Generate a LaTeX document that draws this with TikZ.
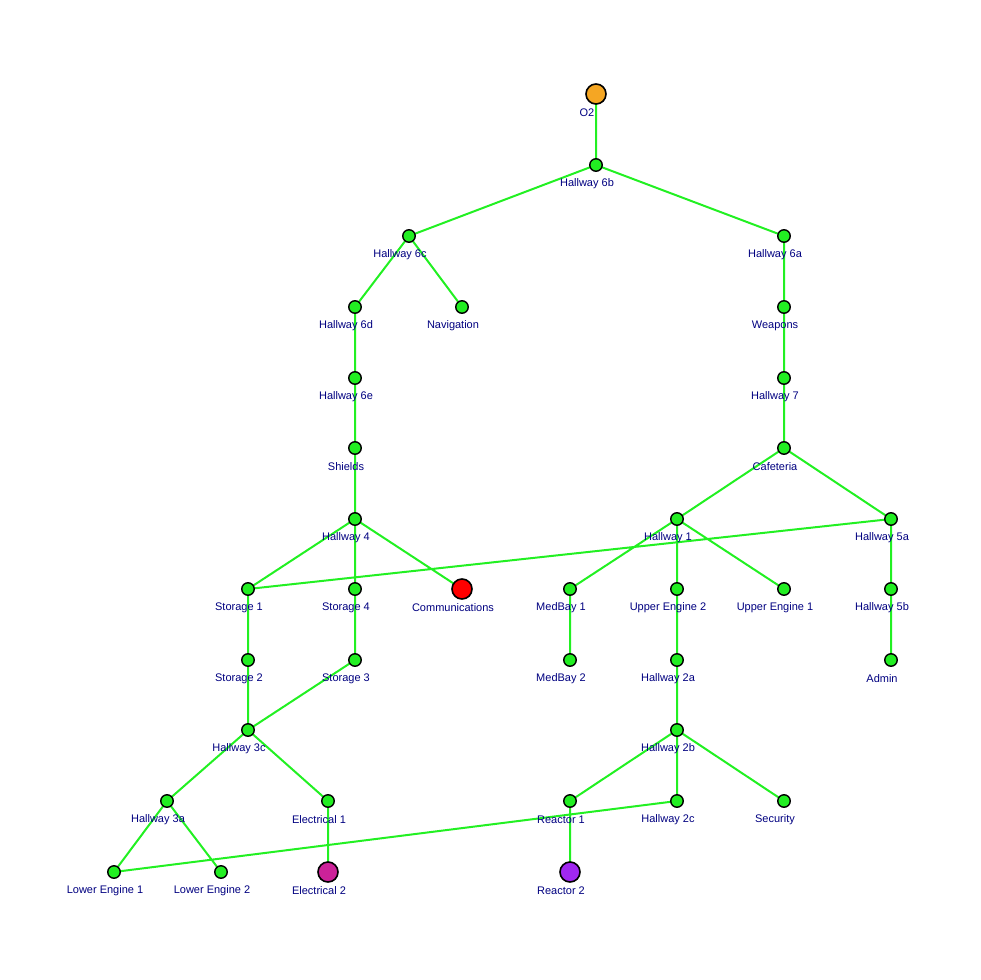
\documentclass[tikz,border=0pt]{standalone}
\usepackage{fontspec}
\setmainfont{Liberation Sans}
\usetikzlibrary{backgrounds}
\definecolor{edgegreen}{RGB}{34,240,34}
\definecolor{nodegreen}{RGB}{34,238,34}
\definecolor{lblblue}{RGB}{0,0,128}
\definecolor{oorange}{RGB}{245,166,35}
\definecolor{cred}{RGB}{255,0,0}
\definecolor{emag}{RGB}{204,34,153}
\definecolor{rpurple}{RGB}{160,40,240}
\tikzset{
  lbl/.style={text=lblblue,font=\fontsize{11}{13}\selectfont,inner sep=0pt,xshift=-9pt,yshift=-18.5pt},
  sm/.style={circle,draw=black,line width=1.4pt,fill=nodegreen,minimum size=12.5pt,inner sep=0pt,label={[lbl]center:#1}},
  bg/.style 2 args={circle,draw=black,line width=1.6pt,fill=#2,minimum size=20pt,inner sep=0pt,label={[lbl]center:#1}},
  edge/.style={draw=edgegreen,line width=2pt}
}
\begin{document}
\begin{tikzpicture}[x=1pt,y=-1pt]
\useasboundingbox (0,0) rectangle (980,980);
\node[bg={O2}{oorange}] (o2) at (596,94) {};
\node[sm=Hallway 6b] (h6b) at (596,165) {};
\node[sm=Hallway 6c] (h6c) at (409,236) {};
\node[sm=Hallway 6a] (h6a) at (784,236) {};
\node[sm=Hallway 6d] (h6d) at (355,307) {};
\node[sm=Navigation] (nav) at (462,307) {};
\node[sm=Weapons] (wea) at (784,307) {};
\node[sm=Hallway 6e] (h6e) at (355,378) {};
\node[sm=Hallway 7] (h7) at (784,378) {};
\node[sm=Shields] (shi) at (355,448) {};
\node[sm=Cafeteria] (caf) at (784,448) {};
\node[sm=Hallway 4] (h4) at (355,519) {};
\node[sm=Hallway 1] (h1) at (677,519) {};
\node[sm=Hallway 5a] (h5a) at (891,519) {};
\node[sm=Storage 1] (st1) at (248,589) {};
\node[sm=Storage 4] (st4) at (355,589) {};
\node[bg={Communications}{cred}] (com) at (462,589) {};
\node[sm=MedBay 1] (mb1) at (570,589) {};
\node[sm=Upper Engine 2] (ue2) at (677,589) {};
\node[sm=Upper Engine 1] (ue1) at (784,589) {};
\node[sm=Hallway 5b] (h5b) at (891,589) {};
\node[sm=Storage 2] (st2) at (248,660) {};
\node[sm=Storage 3] (st3) at (355,660) {};
\node[sm=MedBay 2] (mb2) at (570,660) {};
\node[sm=Hallway 2a] (h2a) at (677,660) {};
\node[sm=Admin] (adm) at (891,660) {};
\node[sm=Hallway 3c] (h3c) at (248,730) {};
\node[sm=Hallway 2b] (h2b) at (677,730) {};
\node[sm=Hallway 3a] (h3a) at (167,801) {};
\node[sm=Electrical 1] (el1) at (328,801) {};
\node[sm=Reactor 1] (re1) at (570,801) {};
\node[sm=Hallway 2c] (h2c) at (677,801) {};
\node[sm=Security] (sec) at (784,801) {};
\node[sm=Lower Engine 1] (le1) at (114,872) {};
\node[sm=Lower Engine 2] (le2) at (221,872) {};
\node[bg={Electrical 2}{emag}] (el2) at (328,872) {};
\node[bg={Reactor 2}{rpurple}] (re2) at (570,872) {};
\begin{scope}[on background layer]
\path[edge] (o2.center) -- (h6b.center)
  (h6b.center) -- (h6c.center) (h6b.center) -- (h6a.center)
  (h6c.center) -- (h6d.center) (h6c.center) -- (nav.center)
  (h6a.center) -- (wea.center)
  (h6d.center) -- (h6e.center) (h6e.center) -- (shi.center) (shi.center) -- (h4.center)
  (wea.center) -- (h7.center) (h7.center) -- (caf.center)
  (caf.center) -- (h1.center) (caf.center) -- (h5a.center)
  (h4.center) -- (st1.center) (h4.center) -- (st4.center) (h4.center) -- (com.center)
  (h5a.center) -- (st1.center)
  (h1.center) -- (mb1.center) (h1.center) -- (ue2.center) (h1.center) -- (ue1.center)
  (h5a.center) -- (h5b.center) (h5b.center) -- (adm.center)
  (st1.center) -- (st2.center) (st2.center) -- (h3c.center)
  (st4.center) -- (st3.center) (st3.center) -- (h3c.center)
  (mb1.center) -- (mb2.center)
  (ue2.center) -- (h2a.center) (h2a.center) -- (h2b.center)
  (h3c.center) -- (h3a.center) (h3c.center) -- (el1.center)
  (h2b.center) -- (re1.center) (h2b.center) -- (h2c.center) (h2b.center) -- (sec.center)
  (h3a.center) -- (le1.center) (h3a.center) -- (le2.center)
  (el1.center) -- (el2.center)
  (le1.center) -- (h2c.center)
  (re1.center) -- (re2.center);
\end{scope}
\end{tikzpicture}
\end{document}
